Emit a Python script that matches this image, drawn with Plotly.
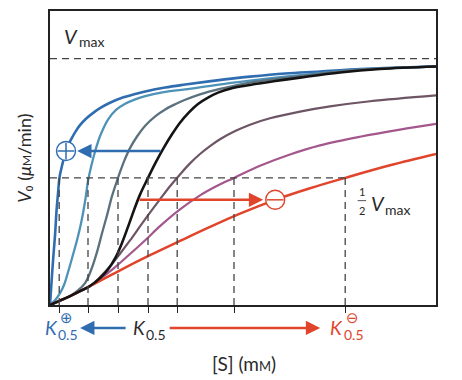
import plotly.graph_objects as go

# ---------------- data ----------------
# substrate concentration [S] (mM, arbitrary scale) and V0 (% of Vmax)
s_blue = [0, 0.025, 0.055, 0.09, 0.13, 0.16, 0.2, 0.24, 0.3, 0.35, 0.4, 0.45, 0.53, 0.63, 0.75, 0.9,
          1.08, 1.28, 1.5, 1.8, 2.13, 2.38, 2.88, 3.38, 4.13, 5.0, 5.88, 6.75, 7.75, 8.75, 9.65]
v_blue = [0, 6.0, 13.3, 21.0, 29.4, 37.5, 45.2, 52.0, 56.5, 59.7, 62.5, 64.7, 67.3, 70.2, 73.0, 75.6,
          78.0, 80.2, 82.1, 84.1, 85.7, 86.7, 88.3, 89.5, 91.1, 92.7, 94.0, 94.8, 95.8, 96.4, 96.8]

s_teal = [0, 0.13, 0.25, 0.35, 0.45, 0.55, 0.68, 0.78, 0.88, 0.95, 1.03, 1.13, 1.25, 1.45, 1.65, 1.88,
          2.13, 2.38, 2.88, 3.38, 4.13, 5.0, 5.88, 6.75, 7.75, 8.75, 9.65]
v_teal = [0, 2.0, 4.8, 8.1, 13.3, 19.0, 26.6, 33.5, 42.4, 50.3, 56.3, 62.5, 68.5, 75.3, 79.2, 81.7,
          83.5, 84.8, 86.5, 87.5, 89.3, 91.1, 92.7, 94.1, 95.6, 96.4, 96.8]

s_gray = [0, 0.25, 0.5, 0.7, 0.88, 1.03, 1.18, 1.3, 1.43, 1.55, 1.7, 1.85, 2.0, 2.18, 2.38, 2.63,
          2.88, 3.13, 3.38, 3.75, 4.25, 5.0, 5.63, 6.25, 7.25, 8.25, 9.65]
v_gray = [0, 1.6, 3.6, 5.9, 9.0, 14.3, 21.8, 29.1, 36.7, 44.2, 51.6, 58.3, 63.7, 68.5, 72.8, 76.6,
          79.4, 81.5, 83.3, 85.5, 87.7, 90.3, 91.7, 92.9, 94.8, 96.0, 96.8]

s_black = [0, 0.25, 0.5, 0.75, 1.0, 1.25, 1.45, 1.63, 1.8, 1.95, 2.1, 2.25, 2.45, 2.65, 2.85, 3.05,
           3.25, 3.48, 3.7, 3.95, 4.2, 4.5, 5.0, 5.63, 6.25, 7.25, 8.25, 9.65]
v_black = [0, 1.8, 3.6, 5.6, 7.7, 10.9, 14.4, 19.0, 25.2, 31.7, 38.5, 44.8, 51.6, 58.1, 64.0, 69.3,
           74.0, 78.3, 81.6, 84.2, 86.2, 87.8, 89.3, 90.9, 92.3, 94.4, 95.8, 96.8]

s_mauve = [0, 0.25, 0.5, 0.75, 1.0, 1.25, 1.5, 1.75, 2.0, 2.25, 2.5, 2.75, 3.0, 3.25, 3.5, 3.75,
           4.0, 4.25, 4.63, 5.0, 5.5, 6.25, 7.0, 8.0, 9.65]
v_mauve = [0, 1.8, 3.6, 5.6, 7.7, 11.3, 15.7, 20.8, 26.2, 31.9, 37.5, 42.9, 48.2, 53.0, 57.5, 61.3,
           64.5, 67.3, 70.6, 73.2, 75.8, 78.5, 80.6, 82.7, 85.1]

s_purple = [0, 0.25, 0.5, 0.75, 1.0, 1.25, 1.63, 2.0, 2.38, 2.75, 3.25, 3.75, 4.18, 4.6, 5.25,
            6.0, 6.75, 7.75, 8.75, 9.65]
v_purple = [0, 1.8, 3.6, 5.6, 7.7, 10.6, 15.4, 20.7, 26.3, 32.0, 38.8, 44.5, 48.4, 51.6, 56.5,
            61.1, 64.8, 68.3, 71.2, 73.5]

s_red = [0, 0.25, 0.5, 0.75, 1.0, 1.75, 2.5, 3.25, 4.0, 4.75, 5.63, 6.5, 7.38, 8.5, 9.65]
v_red = [0, 1.8, 3.6, 5.6, 7.7, 14.1, 20.2, 26.0, 31.7, 37.1, 42.7, 47.4, 51.6, 56.7, 61.3]

k_values = [0.23, 0.95, 1.7, 2.45, 3.18, 4.6, 7.38]   # K0.5 of each curve
v_max = 100
half_v = 51.6

# activator / inhibitor markers and arrows
plus_s, plus_v = 0.4, 62.5
minus_s, minus_v = 5.63, 42.7
blue_arrow = (2.8, 0.68)     # from black curve to activator marker (S values)
red_arrow = (2.2, 5.33)      # from black curve to inhibitor marker

# ---------------- styling ----------------
C_BLUE = "#2f6db0"
C_TEAL = "#4f92b8"
C_GRAY = "#5b717e"
C_BLACK = "#141414"
C_MAUVE = "#6e5565"
C_PURPLE = "#a4578d"
C_RED = "#e0452c"
C_DASH = "#444444"
C_TEXT = "#2a2a2a"
FONT = "Lato"
DASH = "7px,5px"

fig = go.Figure()

curves = [
    (s_blue, v_blue, C_BLUE, 2.6),
    (s_teal, v_teal, C_TEAL, 2.3),
    (s_gray, v_gray, C_GRAY, 2.3),
    (s_mauve, v_mauve, C_MAUVE, 2.2),
    (s_purple, v_purple, C_PURPLE, 2.2),
    (s_red, v_red, C_RED, 2.5),
    (s_black, v_black, C_BLACK, 2.6),
]
for s, v, c, w in curves:
    fig.add_trace(go.Scatter(x=s, y=v, mode="lines",
                             line=dict(color=c, width=w, shape="spline", smoothing=1.0),
                             hoverinfo="skip", showlegend=False, cliponaxis=False))

# dashed guide lines
shapes = []
for k in k_values:
    shapes.append(dict(type="line", xref="x", yref="y", x0=k, x1=k, y0=0, y1=half_v,
                       line=dict(color=C_DASH, width=1.3, dash=DASH)))
shapes.append(dict(type="line", xref="x", yref="y", x0=0, x1=k_values[-1], y0=half_v, y1=half_v,
                   line=dict(color=C_DASH, width=1.3, dash=DASH)))
shapes.append(dict(type="line", xref="paper", yref="y", x0=0, x1=1, y0=v_max, y1=v_max,
                   line=dict(color=C_DASH, width=1.3, dash=DASH)))
# fraction bar of 1/2
shapes.append(dict(type="line", xref="paper", yref="paper", x0=0.797, x1=0.819, y0=0.355, y1=0.355,
                   line=dict(color=C_TEXT, width=0.8)))

annotations = []
# arrows inside the plot
for tip, tail, yv, col in [(blue_arrow[1], blue_arrow[0], plus_v, C_BLUE),
                           (red_arrow[1], red_arrow[0], minus_v, C_RED)]:
    annotations.append(dict(x=tip, y=yv, ax=tail, ay=yv, xref="x", yref="y",
                            axref="x", ayref="y", text="", showarrow=True, arrowhead=2, arrowsize=1.1,
                            arrowwidth=2.6, arrowcolor=col, standoff=0, startstandoff=0))
# arrows below the axis (paper coordinates, pixel offsets for tails)
annotations.append(dict(x=0.078, y=-0.078, ax=47, ay=0, xref="paper", yref="paper",
                        text="", showarrow=True, arrowhead=2, arrowsize=1.1,
                        arrowwidth=2.6, arrowcolor=C_BLUE, standoff=0, startstandoff=0))
annotations.append(dict(x=0.70, y=-0.078, ax=-152, ay=0, xref="paper", yref="paper",
                        text="", showarrow=True, arrowhead=2, arrowsize=1.1,
                        arrowwidth=2.6, arrowcolor=C_RED, standoff=0, startstandoff=0))


def txt(x, y, text, size, color=C_TEXT, xanchor="left", family=FONT, angle=0):
    return dict(x=x, y=y, xref="paper", yref="paper", xanchor=xanchor, yanchor="middle",
                text=text, showarrow=False, textangle=angle,
                font=dict(family=family, size=size, color=color))


# K0.5 labels (main letter + subscript + sign)
for kx, sx, col in [(-0.019, 0.0155, C_BLUE), (0.209, 0.2435, C_TEXT), (0.719, 0.7565, C_RED)]:
    annotations.append(txt(kx, -0.076, "<i>K</i>", 19, col))
    annotations.append(txt(sx, -0.100, "0.5", 14, col))
annotations.append(txt(0.0425, -0.044, "⊕", 15, C_BLUE, "center", "DejaVu Sans"))
annotations.append(txt(0.7825, -0.044, "⊖", 15, C_RED, "center", "DejaVu Sans"))

# Vmax labels
annotations.append(txt(0.031, 0.916, "<i>V</i>", 20))
annotations.append(txt(0.069, 0.895, "max", 14))
annotations.append(txt(0.826, 0.347, "<i>V</i>", 20))
annotations.append(txt(0.863, 0.326, "max", 14))
annotations.append(txt(0.808, 0.387, "1", 11, xanchor="center"))
annotations.append(txt(0.808, 0.322, "2", 11, xanchor="center"))

# axis titles
annotations.append(txt(0.503, -0.198, "[S] (m<span style='font-size:13px'>M</span>)", 19,
                       xanchor="center"))
annotations.append(txt(-0.068, 0.5,
                       "<i>V</i>₀ (<i>μ</i><span style='font-size:12px'>M</span>/min)", 18,
                       xanchor="center", angle=-90))

# activator / inhibitor circles
fig.add_trace(go.Scatter(x=[plus_s], y=[plus_v], mode="markers", hoverinfo="skip", showlegend=False,
                         marker=dict(symbol="circle", size=19, color="white", line=dict(color=C_BLUE, width=1.4))))
fig.add_trace(go.Scatter(x=[plus_s], y=[plus_v], mode="markers", hoverinfo="skip", showlegend=False,
                         marker=dict(symbol="cross-thin", size=12, line=dict(color=C_BLUE, width=1.5))))
fig.add_trace(go.Scatter(x=[minus_s], y=[minus_v], mode="markers", hoverinfo="skip", showlegend=False,
                         marker=dict(symbol="circle", size=19, color="white", line=dict(color=C_RED, width=1.4))))
fig.add_trace(go.Scatter(x=[minus_s], y=[minus_v], mode="markers", hoverinfo="skip", showlegend=False,
                         marker=dict(symbol="line-ew", size=12, line=dict(color=C_RED, width=1.5))))

fig.update_layout(
    width=462, height=380, autosize=False,
    margin=dict(l=50, r=26, t=9, b=75),
    paper_bgcolor="white", plot_bgcolor="white",
    shapes=shapes, annotations=annotations, showlegend=False,
    xaxis=dict(range=[0, 9.65], showgrid=False, zeroline=False, showline=True, mirror=True,
               linecolor="#222222", linewidth=1.6, ticks="outside", ticklen=6, tickwidth=1.3,
               tickcolor="#222222", tickvals=k_values, showticklabels=False, fixedrange=True),
    yaxis=dict(range=[0, 119.35], showgrid=False, zeroline=False, showline=True, mirror=True,
               linecolor="#222222", linewidth=1.6, ticks="", showticklabels=False, fixedrange=True),
)

fig.write_html("out.html", config={"displayModeBar": False},
               post_script="document.body.style.margin='0px';document.body.style.overflow='hidden';")
